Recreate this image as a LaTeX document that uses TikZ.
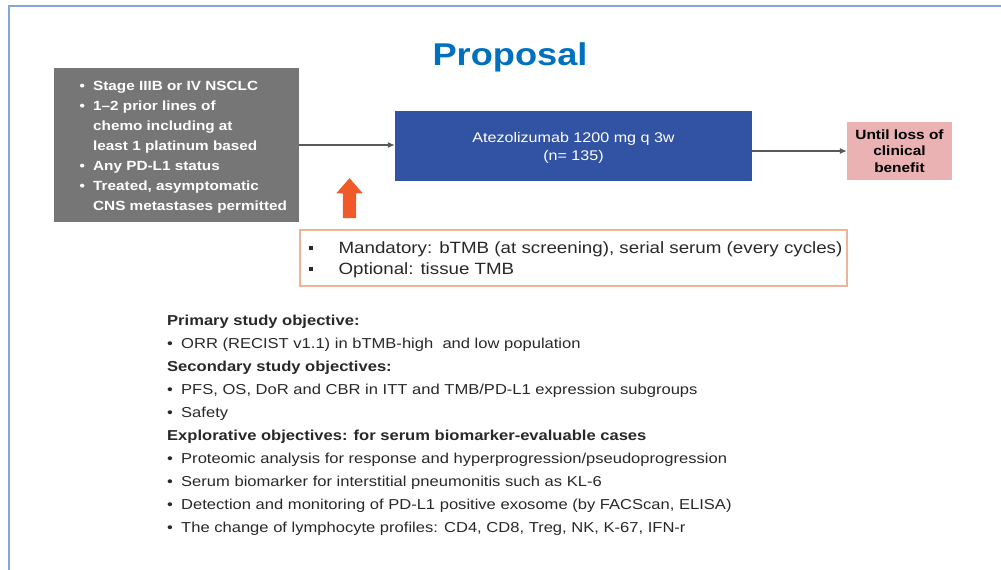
\documentclass[tikz,border=0pt]{standalone}
\usepackage{fontspec}
\setmainfont{Liberation Sans}[FakeStretch=1.15]
\usepackage{xcolor}
\usetikzlibrary{arrows.meta,positioning,shapes.arrows}

\definecolor{titleblue}{RGB}{0,112,192}
\definecolor{framecol}{RGB}{132,165,214}
\definecolor{eliggray}{RGB}{118,118,118}
\definecolor{treatblue}{RGB}{50,82,163}
\definecolor{untilpink}{RGB}{234,178,178}
\definecolor{markorange}{RGB}{240,90,40}
\definecolor{noteline}{RGB}{236,180,155}
\definecolor{bodytext}{RGB}{40,40,40}

\newcommand{\bul}[1]{\makebox[#1][l]{\textbullet}}
\newcommand{\sqbul}{\makebox[30pt][l]{\rule[0.22em]{4.5pt}{4.5pt}}}

\begin{document}
\begin{tikzpicture}[
    x=1pt,y=-1pt,
    >={Latex[length=7pt,width=6pt]},
    flow/.style={draw=black!65,line width=1.1pt},
    eligbox/.style={rectangle,fill=eliggray,minimum width=245pt,minimum height=154pt,inner sep=0pt},
    eligtext/.style={align=left,inner sep=0pt,text=white,font=\fontsize{13.3}{20}\selectfont\bfseries},
    treatbox/.style={rectangle,fill=treatblue,text=white,align=center,minimum width=357pt,minimum height=70pt,inner sep=0pt,font=\fontsize{14}{18}\selectfont},
    untilbox/.style={rectangle,fill=untilpink,align=center,minimum width=105pt,minimum height=58pt,inner sep=0pt,font=\fontsize{13.4}{16.5}\selectfont\bfseries},
    notebox/.style={rectangle,draw=noteline,line width=1.3pt,minimum width=547pt,minimum height=56pt,inner sep=0pt},
    notetext/.style={align=left,inner sep=0pt,text=bodytext,font=\fontsize{16.3}{21}\selectfont},
    objtext/.style={align=left,inner sep=0pt,text=bodytext,font=\fontsize{14.4}{23}\selectfont}]
  \useasboundingbox (0,0) rectangle (1001,570);
  % ---- slide frame and title ----
  \draw[framecol,line width=2pt] (9,570) -- (9,6) -- (1001,6);
  \node[anchor=base,text=titleblue,font=\fontsize{31.5}{36}\selectfont\bfseries] (title) at (510,65) {Proposal};

  % ---- study flow ----
  \node[eligbox] (elig) at (176.5,145) {};
  \node[eligtext,anchor=north west] (eligtxt) at (79.5,81) {%
    \bul{13.5pt}Stage IIIB or IV NSCLC\\
    \bul{13.5pt}1--2 prior lines of\\
    \hspace*{13.5pt}chemo including at\\
    \hspace*{13.5pt}least 1 platinum based\\
    \bul{13.5pt}Any PD-L1 status\\
    \bul{13.5pt}Treated, asymptomatic\\
    \hspace*{13.5pt}CNS metastases permitted};
  \node[treatbox] (treat) at (573.5,146) {};
  \node[align=center,text=white,inner sep=0pt,font=\fontsize{14}{18}\selectfont] (treattxt) at ([yshift=-1.5pt]treat.center) {Atezolizumab 1200 mg q 3w\\(n= 135)};
  \node[untilbox] (until) at (899.5,151) {Until loss of\\clinical\\benefit};
  \draw[flow,->] (elig.east) -- (elig.east -| treat.west);
  \draw[flow,->] (treat.east |- until.west) -- (until.west);

  % ---- biomarker sampling ----
  \node[single arrow,fill=markorange,rotate=90,minimum height=40pt,minimum width=26pt,
        single arrow head extend=6.5pt,single arrow tip angle=82,inner xsep=0pt,inner ysep=6.5pt] (mark) at (349.5,202) {};
  \node[notebox] (note) at (573.5,258) {};
  \node[notetext,anchor=west] (notetxt) at ([xshift=9pt,yshift=-2pt]note.west) {%
    \sqbul Mandatory: bTMB (at screening), serial serum (every cycles)\\
    \sqbul Optional: tissue TMB};

  % ---- objectives ----
  \node[objtext,anchor=north west] (obj) at (167,314.5) {%
    \textbf{Primary study objective:}\\
    \bul{14pt}ORR (RECIST v1.1) in bTMB-high~ and low population\\
    \textbf{Secondary study objectives:}\\
    \bul{14pt}PFS, OS, DoR and CBR in ITT and TMB/PD-L1 expression subgroups\\
    \bul{14pt}Safety\\
    \textbf{Explorative objectives: for serum biomarker-evaluable cases}\\
    \bul{14pt}Proteomic analysis for response and hyperprogression/pseudoprogression\\
    \bul{14pt}Serum biomarker for interstitial pneumonitis such as KL-6\\
    \bul{14pt}Detection and monitoring of PD-L1 positive exosome (by FACScan, ELISA)\\
    \bul{14pt}The change of lymphocyte profiles: CD4, CD8, Treg, NK, K-67, IFN-r};
\end{tikzpicture}
\end{document}
